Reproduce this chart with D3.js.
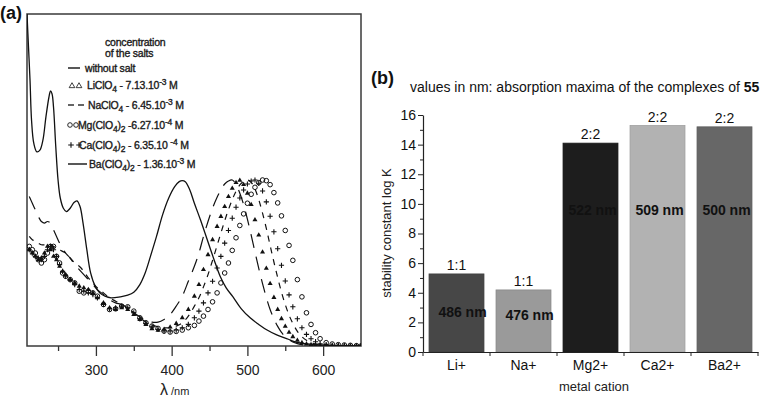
<!DOCTYPE html>
<html>
<head>
<meta charset="utf-8">
<script src="https://cdn.jsdelivr.net/npm/d3@7"></script>
<style>
  body { margin: 0; background: #fff; }
  svg { font-family: "Liberation Sans", Arial, sans-serif; }
</style>
</head>
<body>
<svg id="chart" width="765" height="397"></svg>
<script>
// ---------- panel (a): absorption spectra ----------
// ligand without salt
const wlFree = [209,211,213,215,218,222,226,230,234,238,240,242,244,247,250,253,257,261,266,271,275,279,283,288,293,299,305,312,320,332,342,350,358,365,372,380,388,396,404,410,414,418,424,430,438,447,456,464,472,481,492,504,515,526,538,550,560,570,585,600,620,650];
const absFree = [1.0,0.9,0.8,0.68,0.61,0.585,0.59,0.62,0.69,0.75,0.768,0.76,0.72,0.6,0.5,0.445,0.415,0.405,0.415,0.432,0.437,0.42,0.37,0.29,0.22,0.18,0.16,0.15,0.145,0.148,0.153,0.162,0.185,0.22,0.27,0.33,0.395,0.445,0.48,0.495,0.498,0.495,0.47,0.43,0.38,0.32,0.26,0.21,0.175,0.148,0.112,0.084,0.065,0.048,0.034,0.024,0.015,0.009,0.005,0.003,0.001,0];

// salts, all read on the same wavelength grid
const wlSalt = [212,216,220,224,228,232,236,240,244,248,252,256,260,266,272,278,284,290,296,302,310,318,326,334,342,350,358,366,374,382,390,398,406,414,422,
  430,436,442,448,454,460,465,470,475,480,485,490,495,500,505,510,515,520,525,530,535,540,545,550,555,560,566,572,578,584,590,596,604,612,620,628,636,644,650];
const absLi = [0.29,0.28,0.27,0.26,0.265,0.28,0.30,0.29,0.27,0.26,0.24,0.225,0.215,0.2,0.19,0.18,0.175,0.17,0.16,0.145,0.13,0.115,0.11,0.115,0.11,0.095,0.08,0.065,0.052,0.047,0.05,0.057,0.068,0.085,0.11,
  0.15,0.185,0.23,0.275,0.32,0.36,0.39,0.42,0.45,0.475,0.492,0.499,0.486,0.46,0.426,0.38,0.334,0.283,0.234,0.188,0.146,0.11,0.082,0.059,0.041,0.028,0.017,0.01,0.006,0.004,0.003,0.002,0.002,0.001,0.001,0,0,0,0];
const absNa = [0.45,0.43,0.41,0.39,0.375,0.37,0.375,0.37,0.35,0.33,0.31,0.295,0.28,0.265,0.245,0.23,0.215,0.2,0.185,0.17,0.155,0.14,0.13,0.125,0.115,0.1,0.088,0.078,0.072,0.072,0.08,0.095,0.12,0.15,0.195,
  0.24,0.28,0.33,0.375,0.415,0.448,0.47,0.488,0.497,0.5,0.487,0.46,0.426,0.382,0.334,0.283,0.234,0.188,0.146,0.11,0.082,0.059,0.041,0.028,0.019,0.012,0.007,0.004,0.002,0.001,0,0,0,0,0,0,0,0,0];
const absMg = [0.30,0.29,0.28,0.26,0.25,0.26,0.28,0.30,0.30,0.27,0.25,0.22,0.21,0.20,0.19,0.165,0.16,0.165,0.16,0.15,0.125,0.11,0.112,0.12,0.118,0.105,0.085,0.07,0.06,0.053,0.045,0.042,0.044,0.048,0.055,
  0.062,0.075,0.09,0.11,0.133,0.16,0.19,0.22,0.25,0.288,0.326,0.363,0.398,0.43,0.457,0.478,0.492,0.5,0.498,0.486,0.462,0.431,0.392,0.348,0.303,0.258,0.2,0.148,0.1,0.065,0.04,0.022,0.01,0.006,0.004,0.003,0.002,0.001,0];
const absCa = [0.29,0.28,0.27,0.265,0.26,0.27,0.29,0.30,0.29,0.27,0.245,0.225,0.21,0.2,0.185,0.17,0.165,0.16,0.155,0.145,0.125,0.112,0.115,0.12,0.115,0.1,0.082,0.068,0.058,0.05,0.045,0.045,0.048,0.055,0.065,
  0.085,0.105,0.13,0.16,0.195,0.235,0.27,0.31,0.348,0.385,0.418,0.446,0.47,0.488,0.497,0.5,0.49,0.467,0.434,0.391,0.344,0.293,0.243,0.196,0.154,0.118,0.082,0.055,0.035,0.022,0.013,0.007,0.004,0.002,0.001,0.001,0,0,0];
const absBa = [0.33,0.32,0.315,0.31,0.305,0.305,0.31,0.305,0.3,0.295,0.29,0.285,0.28,0.265,0.25,0.24,0.225,0.205,0.19,0.175,0.16,0.145,0.135,0.125,0.115,0.1,0.085,0.072,0.063,0.058,0.055,0.055,0.06,0.07,0.09,
  0.12,0.145,0.178,0.215,0.258,0.303,0.34,0.377,0.411,0.441,0.466,0.485,0.496,0.5,0.493,0.473,0.441,0.4,0.354,0.303,0.253,0.206,0.162,0.125,0.093,0.068,0.044,0.028,0.017,0.01,0.006,0.003,0.002,0.001,0,0,0,0,0];

const xTicksA = [300, 400, 500, 600];
const xMinorA = [250, 350, 450, 550];

// ---------- panel (b): stability constants ----------
const cations = ["Li+", "Na+", "Mg2+", "Ca2+", "Ba2+"];
const logK = [5.27, 4.19, 14.1, 15.29, 15.2];
const stoich = ["1:1", "1:1", "2:2", "2:2", "2:2"];
const lambdaMax = ["486 nm", "476 nm", "522 nm", "509 nm", "500 nm"];
const yTicksB = [0, 2, 4, 6, 8, 10, 12, 14, 16];

const barFill = ["#474747", "#9a9a9a", "#1d1d1d", "#b2b2b2", "#676767"];
const nmLabelAt = [2.7, 2.5, 9.6, 9.6, 9.6];   // where the nm text sits (log K units)
const nmLabelDx = [6, 6, 2, 2, 2];

const svg = d3.select("#chart");

// ===== panel (a) =====
const xA = d3.scaleLinear().domain([209, 650]).range([27, 361]);
const yA = d3.scaleLinear().domain([0, 1]).range([346, 14]);

svg.append("clipPath").attr("id", "clipA")
  .append("rect").attr("x", 27).attr("y", 14).attr("width", 334).attr("height", 332);

const gA = svg.append("g");

gA.append("g")
  .attr("transform", "translate(0,346)")
  .call(d3.axisBottom(xA).tickValues(xMinorA).tickSize(5).tickFormat(""))
  .call(g => g.select(".domain").remove())
  .call(g => g.selectAll("line").attr("stroke", "#333").attr("stroke-width", 1.3));

gA.append("g")
  .attr("transform", "translate(0,346)")
  .call(d3.axisBottom(xA).tickValues(xTicksA).tickSize(10).tickPadding(9).tickFormat(d3.format("d")))
  .call(g => g.select(".domain").remove())
  .call(g => g.selectAll("line").attr("stroke", "#333").attr("stroke-width", 1.3))
  .call(g => g.selectAll("text").attr("font-size", 14).attr("fill", "#222")
    .attr("font-family", "Liberation Sans, Arial, sans-serif"));

gA.append("rect")
  .attr("x", 27).attr("y", 14).attr("width", 334).attr("height", 332)
  .attr("fill", "none").attr("stroke", "#3a3a3a").attr("stroke-width", 1.5);

const lineA = d3.line().curve(d3.curveCatmullRom.alpha(0.5))
  .x(d => xA(d[0])).y(d => yA(d[1]));
const plot = gA.append("g").attr("clip-path", "url(#clipA)");

plot.append("path").datum(d3.zip(wlFree, absFree))
  .attr("d", lineA).attr("fill", "none").attr("stroke", "#111").attr("stroke-width", 1.3);

plot.append("path").datum(d3.zip(wlSalt, absNa))
  .attr("d", lineA).attr("fill", "none").attr("stroke", "#111").attr("stroke-width", 1.2)
  .attr("stroke-dasharray", "14,9");

plot.append("path").datum(d3.zip(wlSalt, absBa))
  .attr("d", lineA).attr("fill", "none").attr("stroke", "#111").attr("stroke-width", 1.2)
  .attr("stroke-dasharray", "6,6");

const triPath = d3.symbol(d3.symbolTriangle, 11)();
plot.append("g").selectAll("path").data(d3.zip(wlSalt, absLi)).join("path")
  .attr("transform", d => `translate(${xA(d[0])},${yA(d[1])})`)
  .attr("d", triPath).attr("fill", "#111");

plot.append("g").selectAll("path").data(d3.zip(wlSalt, absCa)).join("path")
  .attr("transform", d => `translate(${xA(d[0])},${yA(d[1])})`)
  .attr("d", "M-2.6,0H2.6M0,-2.6V2.6").attr("stroke", "#111").attr("stroke-width", 1.1);

plot.append("g").selectAll("circle").data(d3.zip(wlSalt, absMg)).join("circle")
  .attr("cx", d => xA(d[0])).attr("cy", d => yA(d[1])).attr("r", 2.3)
  .attr("fill", "none").attr("stroke", "#111").attr("stroke-width", 1);

// legend of panel (a)
const legFont = { size: 10.5, fill: "#1a1a1a" };
const head = gA.append("g").attr("font-size", legFont.size).attr("fill", legFont.fill)
  .attr("stroke", legFont.fill).attr("stroke-width", 0.35)
  .attr("letter-spacing", "-0.2");
head.append("text").attr("x", 105).attr("y", 46).text("concentration");
head.append("text").attr("x", 105).attr("y", 57).text("of the salts");

const legendItems = [
  { y: 68, x: 85, parts: [["without salt"]] },
  { y: 85, x: 87, parts: [["LiClO"], ["4", "sub"], [" - 7.13.10"], ["-3", "sup"], [" M"]] },
  { y: 105, x: 88, parts: [["NaClO"], ["4", "sub"], [" - 6.45.10"], ["-3", "sup"], [" M"]] },
  { y: 125, x: 78, parts: [["Mg(ClO"], ["4", "sub"], [")"], ["2", "sub"], [" -6.27.10"], ["-4", "sup"], [" M"]] },
  { y: 145, x: 79, parts: [["Ca(ClO"], ["4", "sub"], [")"], ["2", "sub"], [" - 6.35.10 "], ["-4", "sup"], [" M"]] },
  { y: 164, x: 89, parts: [["Ba(ClO"], ["4", "sub"], [")"], ["2", "sub"], [" - 1.36.10"], ["-3", "sup"], [" M"]] }
];

legendItems.forEach(item => {
  const t = head.append("text").attr("x", item.x).attr("y", item.y + 4);
  let shift = 0;
  item.parts.forEach(([s, mode]) => {
    const want = mode === "sub" ? 3 : mode === "sup" ? -4 : 0;
    t.append("tspan").attr("dy", want - shift)
      .attr("font-size", mode ? 8.5 : legFont.size).text(s);
    shift = want;
  });
});

const legSym = gA.append("g").attr("stroke", "#111").attr("fill", "none");
legSym.append("line").attr("x1", 68).attr("x2", 80).attr("y1", 68).attr("y2", 68).attr("stroke-width", 1.4);
[72, 79].forEach(x => legSym.append("path")
  .attr("transform", `translate(${x},86)`).attr("d", d3.symbol(d3.symbolTriangle, 14)()).attr("stroke-width", 0.8));
[[68, 74], [78, 84]].forEach(([a, b]) => legSym.append("line")
  .attr("x1", a).attr("x2", b).attr("y1", 105).attr("y2", 105).attr("stroke-width", 1.3));
[70, 76].forEach(x => legSym.append("circle").attr("cx", x).attr("cy", 125).attr("r", 2.3).attr("stroke-width", 0.9));
[71, 79].forEach(x => legSym.append("path")
  .attr("transform", `translate(${x},145)`).attr("d", "M-2.8,0H2.8M0,-2.8V2.8").attr("stroke-width", 1.1));
legSym.append("line").attr("x1", 68).attr("x2", 87).attr("y1", 164).attr("y2", 164).attr("stroke-width", 1.4);

const xlab = svg.append("text").attr("x", 160).attr("y", 395).attr("fill", "#222");
xlab.append("tspan").attr("font-size", 16).text("λ");
xlab.append("tspan").attr("font-size", 11).text(" /nm");

svg.append("text").attr("x", 0).attr("y", 19).attr("font-size", 18).attr("font-weight", "bold")
  .attr("fill", "#111").text("(a)");

// ===== panel (b) =====
const xB = d3.scaleBand().domain(cations).range([423, 758]).paddingInner(0.18).paddingOuter(0.09);
const yB = d3.scaleLinear().domain([0, 16]).range([352, 115]);
const gB = svg.append("g");

gB.selectAll("rect.bar").data(cations).join("rect")
  .attr("class", "bar")
  .attr("x", d => xB(d)).attr("width", xB.bandwidth())
  .attr("y", (d, i) => yB(logK[i])).attr("height", (d, i) => yB(0) - yB(logK[i]))
  .attr("fill", (d, i) => barFill[i])
  .attr("stroke", (d, i) => d3.color(barFill[i]).darker(0.3)).attr("stroke-width", 0.8);

gB.selectAll("text.stoich").data(cations).join("text")
  .attr("class", "stoich")
  .attr("x", d => xB(d) + xB.bandwidth() / 2)
  .attr("y", (d, i) => yB(logK[i]) - 4)
  .attr("text-anchor", "middle").attr("font-size", 14).attr("fill", "#111")
  .text((d, i) => stoich[i]);

gB.selectAll("text.nm").data(cations).join("text")
  .attr("class", "nm")
  .attr("x", (d, i) => xB(d) + xB.bandwidth() / 2 + nmLabelDx[i])
  .attr("y", (d, i) => yB(nmLabelAt[i]))
  .attr("dy", "0.35em")
  .attr("text-anchor", "middle").attr("font-size", 14).attr("font-weight", "bold").attr("fill", "#111")
  .text((d, i) => lambdaMax[i]);

// y axis with minor ticks
gB.append("g").attr("transform", "translate(423,0)")
  .call(d3.axisLeft(yB).tickValues(d3.range(1, 16, 2)).tickSize(3).tickFormat(""))
  .call(g => g.select(".domain").remove())
  .call(g => g.selectAll("line").attr("stroke", "#222"));
gB.append("g").attr("transform", "translate(423,0)")
  .call(d3.axisLeft(yB).tickValues(yTicksB).tickSize(5).tickPadding(2).tickSizeOuter(0))
  .call(g => g.select(".domain").attr("stroke", "#222").attr("stroke-width", 1.2))
  .call(g => g.selectAll("line").attr("stroke", "#222"))
  .call(g => g.selectAll("text").attr("font-size", 14).attr("fill", "#111")
    .attr("font-family", "Liberation Sans, Arial, sans-serif"));

// x axis: ticks between the bars, labels at the centres
gB.append("g").attr("transform", "translate(0,352)")
  .call(d3.axisBottom(xB).tickSize(0).tickPadding(8).tickSizeOuter(0))
  .call(g => g.select(".domain").attr("stroke", "#222").attr("stroke-width", 1.2))
  .call(g => g.selectAll("text").attr("font-size", 14).attr("fill", "#111")
    .attr("font-family", "Liberation Sans, Arial, sans-serif"));
gB.append("g").selectAll("line")
  .data(cations.map(c => xB(c) - xB.step() * xB.paddingInner() / 2).concat([xB.range()[1]]))
  .join("line")
  .attr("x1", d => d).attr("x2", d => d).attr("y1", 352).attr("y2", 356)
  .attr("stroke", "#222");

gB.append("text").attr("x", 594).attr("y", 391).attr("text-anchor", "middle")
  .attr("font-size", 13).attr("fill", "#222").text("metal cation");

gB.append("text").attr("transform", "translate(391,233) rotate(-90)")
  .attr("text-anchor", "middle").attr("font-size", 13).attr("fill", "#222")
  .text("stability constant log K");

const title = gB.append("text").attr("x", 410).attr("y", 92).attr("font-size", 14).attr("fill", "#111");
title.append("tspan").text("values in nm: absorption maxima of the complexes of ");
title.append("tspan").attr("font-weight", "bold").text("55");

svg.append("text").attr("x", 371).attr("y", 84).attr("font-size", 18).attr("font-weight", "bold")
  .attr("fill", "#111").text("(b)");
</script>
</body>
</html>
